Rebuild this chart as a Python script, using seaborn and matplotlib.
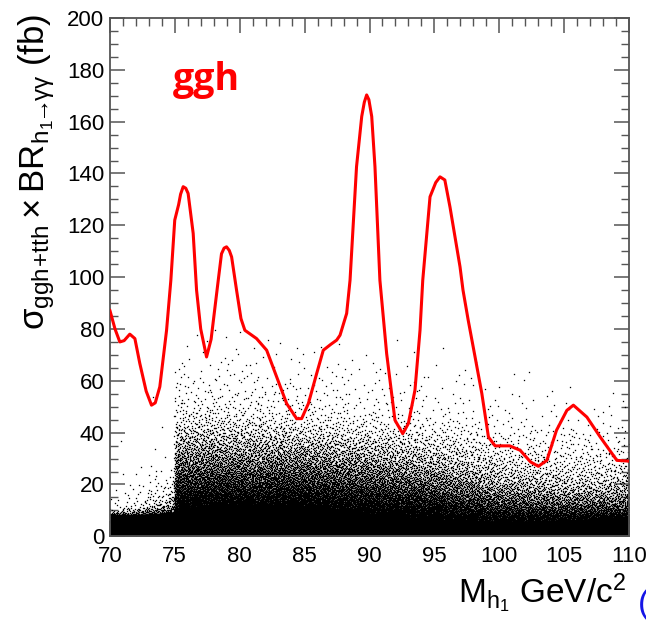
import numpy as np
import pandas as pd
import matplotlib
matplotlib.use("Agg")
import matplotlib.pyplot as plt
from matplotlib.ticker import MultipleLocator
import seaborn as sns

# ---------------- data ----------------
# red limit curve
curve_x = [70.0, 70.4, 70.77, 71.1, 71.54, 71.93, 72.31, 72.8, 73.21, 73.5, 73.85, 74.37, 74.7,
           75.0, 75.3, 75.45, 75.65, 75.85, 76.03, 76.42, 76.68, 77.0, 77.45, 77.8, 78.35, 78.6,
           78.8, 78.99, 79.2, 79.38, 79.76, 80.1, 80.4, 81.3, 82.08, 82.85, 83.62, 84.39, 84.77,
           85.29, 85.93, 86.44, 87.0, 87.47, 87.73, 88.24, 88.5, 89.0, 89.4, 89.6, 89.78, 89.95,
           90.17, 90.42, 90.8, 91.32, 91.96, 92.56, 92.99, 93.5, 93.89, 94.1, 94.66, 95.1, 95.43,
           95.8, 96.2, 96.97, 97.2, 97.6, 98.13, 98.65, 99.16, 99.67, 100.8, 101.6, 102.4, 103.0,
           103.66, 104.4, 105.2, 105.7, 106.74, 107.77, 109.05, 110.0]
curve_y = [87.3, 80.0, 75.0, 75.5, 78.0, 76.3, 66.7, 56.0, 50.6, 51.5, 57.7, 79.5, 98.8,
           122.0, 128.0, 132.0, 134.9, 134.3, 132.3, 116.9, 95.0, 80.0, 69.2, 76.0, 98.8, 109.0,
           111.2, 111.7, 110.3, 107.8, 95.0, 84.0, 79.5, 76.3, 71.8, 61.5, 51.2, 45.4, 45.4,
           51.2, 62.8, 71.8, 74.0, 75.7, 77.6, 86.0, 98.8, 142.6, 162.0, 167.5, 170.3, 168.5,
           162.0, 142.6, 98.8, 70.5, 44.8, 39.6, 43.5, 56.4, 79.5, 98.8, 131.0, 136.5, 138.7,
           137.5, 127.0, 104.0, 95.0, 83.4, 69.2, 55.1, 38.3, 34.9, 34.9, 33.2, 28.7, 27.0,
           29.3, 40.9, 48.6, 50.6, 46.0, 38.3, 29.3, 29.0]

# solid black band at the bottom of the scan cloud (upper edge, fb)
band_x = [70, 72, 74, 75, 75.5, 78, 82, 86, 90, 94, 98, 102, 106, 110]
band_top = [8.5, 8.5, 9.0, 9.5, 11.0, 12.5, 12.5, 11.5, 9.0, 7.0, 6.0, 6.0, 6.5, 8.0]

# scan-point density: points per (1 GeV x 5 fb),
# at mass nodes (rows) and cross-section nodes (columns)
cloud_x_nodes = [70, 72, 73.5, 74.9, 75.1, 77.5, 80, 85, 90, 95, 100, 105, 110]
cloud_y_nodes = [7.5, 12.5, 17.5, 22.5, 27.5, 32.5, 37.5, 42.5, 47.5, 52.5, 57.5, 62.5,
                 67.5, 72.5, 77.5]
cloud_density = [
    [300, 3, 0.8, 0.3, 0, 0, 0, 0, 0, 0, 0, 0, 0, 0, 0],
    [300, 10, 3, 1.2, 0.4, 0.2, 0.2, 0, 0, 0, 0, 0, 0, 0, 0],
    [300, 25, 10, 4, 1.5, 0.6, 0.4, 0.3, 0.2, 0.1, 0.1, 0, 0, 0, 0],
    [300, 50, 20, 8, 3, 1.2, 0.6, 0.4, 0.3, 0.2, 0.2, 0.1, 0, 0, 0],
    [400, 330, 220, 150, 100, 65, 42, 24, 13, 7, 4.5, 3, 1.8, 0.9, 0.4],
    [400, 330, 220, 150, 100, 65, 42, 24, 13, 7, 4.5, 3, 1.8, 0.9, 0.4],
    [400, 330, 215, 145, 95, 62, 40, 22, 11, 6, 4, 2.5, 1.5, 0.8, 0.3],
    [400, 320, 210, 140, 90, 58, 36, 18, 8, 4.5, 3, 2, 1.2, 0.6, 0.2],
    [380, 280, 175, 110, 70, 45, 27, 13, 6, 3.5, 2.2, 1.4, 0.8, 0.4, 0.1],
    [350, 230, 130, 80, 48, 30, 17, 8, 4, 2.5, 1.5, 0.8, 0.4, 0.2, 0.05],
    [300, 140, 70, 40, 24, 14, 8, 4, 2, 1.2, 0.6, 0.3, 0.1, 0, 0],
    [280, 110, 50, 26, 15, 9, 5, 2.5, 1.2, 0.7, 0.3, 0.1, 0, 0, 0],
    [280, 110, 50, 26, 15, 9, 5, 2.5, 1.2, 0.7, 0.3, 0.1, 0, 0, 0],
]

x_ticks = [70, 75, 80, 85, 90, 95, 100, 105, 110]
y_ticks = [0, 20, 40, 60, 80, 100, 120, 140, 160, 180, 200]


# ------- deterministic (low-discrepancy) placement of the cloud points -------
def radical_inverse(idx, base):
    idx = idx.copy()
    f = np.ones(idx.shape)
    r = np.zeros(idx.shape)
    while np.any(idx > 0):
        f /= base
        r += f * (idx % base)
        idx //= base
    return r


dens = np.array(cloud_density, dtype=float)
xn = np.array(cloud_x_nodes, dtype=float)
yn = np.array(cloud_y_nodes, dtype=float)
dmax = dens.max()
x_lo, x_hi, y_lo, y_hi = 70.0, 110.0, 5.0, 80.0
n_cand = int(dmax * (x_hi - x_lo) * (y_hi - y_lo) / 5.0)
idx = np.arange(1, n_cand + 1)
cx = x_lo + (x_hi - x_lo) * radical_inverse(idx, 2)
cy = y_lo + (y_hi - y_lo) * radical_inverse(idx, 3)
cu = radical_inverse(idx, 5)

eps = 0.02
cols = np.array([np.exp(np.interp(cy, yn, np.log(row + eps))) - eps for row in dens])
j = np.clip(np.searchsorted(xn, cx) - 1, 0, len(xn) - 2)
t = (cx - xn[j]) / (xn[j + 1] - xn[j])
ar = np.arange(n_cand)
d = cols[j, ar] * (1 - t) + cols[j + 1, ar] * t
keep = cu * dmax < d
cloud = pd.DataFrame({"m": cx[keep], "xs": cy[keep]})
curve = pd.DataFrame({"m": curve_x, "xs": curve_y})

# ---------------- figure ----------------
sns.set_theme(style="ticks")
plt.rcParams["font.family"] = ["Liberation Sans", "DejaVu Sans"]
plt.rcParams["mathtext.fontset"] = "custom"
plt.rcParams["mathtext.rm"] = "Liberation Sans"
plt.rcParams["mathtext.it"] = "Liberation Sans:italic"
plt.rcParams["mathtext.bf"] = "Liberation Sans:bold"

fig = plt.figure(figsize=(6.46, 6.20), dpi=100)
ax = fig.add_axes([0.170, 0.135, 0.804, 0.836])

ax.fill_between(band_x, 0, band_top, color="black", linewidth=0, zorder=1)
sns.scatterplot(data=cloud, x="m", y="xs", ax=ax, color="black", marker="s", s=0.85,
                linewidth=0, legend=False, zorder=2, rasterized=True, antialiased=False,
                snap=False)
sns.lineplot(data=curve, x="m", y="xs", ax=ax, color="#ff0000", linewidth=2.2,
             sort=False, estimator=None, zorder=3)

ax.set_xlim(70, 110)
ax.set_ylim(0, 200)
ax.set_xticks(x_ticks)
ax.set_yticks(y_ticks)
ax.set_xticklabels([str(v) for v in x_ticks])
ax.set_yticklabels([str(v) for v in y_ticks])
ax.xaxis.set_minor_locator(MultipleLocator(1))
ax.yaxis.set_minor_locator(MultipleLocator(5))

tick_col = "#555555"
ax.tick_params(which="both", direction="in", top=True, right=True, color=tick_col,
               labelsize=16, labelcolor="black")
ax.tick_params(which="major", length=11, width=1.1)
ax.tick_params(which="minor", length=5.5, width=1.0)
ax.tick_params(axis="x", pad=7)
ax.tick_params(axis="y", pad=4)
for sp in ax.spines.values():
    sp.set_color(tick_col)
    sp.set_linewidth(1.3)

ax.set_xlabel("")
ax.set_ylabel("")

ax.text(0.121, 0.861, "ggh", transform=ax.transAxes, color="#ff0000", fontsize=27,
        fontweight="bold", family=["Open Sans", "DejaVu Sans"], ha="left", va="baseline")

fig.text(0.056, 0.722,
         r"$\mathrm{\sigma}_{\mathrm{ggh\!+\!tth}}\times\mathrm{BR}_{\mathrm{h_{1}\!\!\rightarrow\!\!\gamma\gamma}}$ (fb)",
         rotation=90, ha="center", va="center", fontsize=25, color="black")
fig.text(0.969, 0.027, r"$\mathrm{M}_{\mathrm{h_{1}}}$ GeV/c$^{2}$", ha="right",
         va="baseline", fontsize=24, color="black")
fig.text(0.987, 0.012, "(", ha="left", va="baseline", fontsize=24, color="#1515e6")

fig.savefig("out.png", dpi=100)
